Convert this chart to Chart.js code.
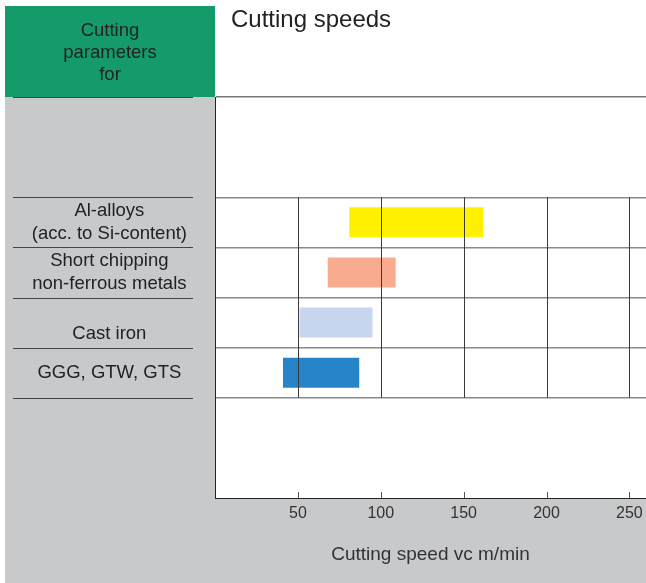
<!DOCTYPE html>
<html>
<head>
<meta charset="utf-8">
<script src="https://cdn.jsdelivr.net/npm/chart.js@4"></script>
<style>
  html, body { margin: 0; padding: 0; background: #fff; }
</style>
</head>
<body>
<canvas id="speedChart" width="646" height="583"></canvas>
<script>
// Cutting speed ranges per material
const materials = [
  ["Al-alloys", "(acc. to Si-content)"],
  ["Short chipping", "non-ferrous metals"],
  ["", "Cast iron"],
  "GGG, GTW, GTS",
];
const speedMin = [81, 68, 51, 41];
const speedMax = [162, 109, 95, 87];
const barColors = ["#fff100", "#f8ab8e", "#c7d5ee", "#2884c8"];
const speedTicks = [50, 100, 150, 200, 250];
const headerLines = ["Cutting", "parameters", "for"];
const chartTitle = "Cutting speeds";
const axisTitle = "Cutting speed vc m/min";

const FONT = '"Liberation Sans", Arial, sans-serif';

// two empty rows above and below the table
const blank = ["", ""];
const rowLabels = [...blank, ...materials, ...blank];
const rowData = [null, null, ...speedMin.map((v, i) => [v, speedMax[i]]), null, null];
const rowColors = ["#0000", "#0000", ...barColors, "#0000", "#0000"];
const firstRow = blank.length;
const lastRow = blank.length + materials.length;

function rowEdge(scale, i) {
  return scale.getPixelForValue(i - 0.5);
}

const tablePlugin = {
  id: "table",
  beforeDraw(chart) {
    const ctx = chart.ctx;
    const { left, top, bottom } = chart.chartArea;
    const y = chart.scales.y;
    ctx.save();
    ctx.fillStyle = "#fff";
    ctx.fillRect(0, 0, chart.width, chart.height);
    ctx.fillStyle = "#c8c9cb";
    ctx.fillRect(5, top, left - 5, chart.height - top);
    ctx.fillRect(5, bottom, chart.width - 5, chart.height - bottom);
    ctx.fillStyle = "#149b69";
    ctx.fillRect(5, 6, left - 5, top - 6);

    ctx.fillStyle = "#222";
    ctx.font = "18.5px " + FONT;
    ctx.textAlign = "center";
    ctx.textBaseline = "middle";
    headerLines.forEach((t, i) => ctx.fillText(t, 110, 31 + i * 22));

    ctx.textAlign = "left";
    ctx.textBaseline = "alphabetic";
    ctx.font = "24px " + FONT;
    ctx.fillText(chartTitle, 231, 27);

    // row separators in the label column
    ctx.strokeStyle = "#444";
    ctx.lineWidth = 1;
    const edges = [0];
    for (let i = firstRow; i <= lastRow; i++) edges.push(i);
    edges.forEach(i => {
      const py = Math.round(rowEdge(y, i)) + 0.5;
      ctx.beginPath();
      ctx.moveTo(13, py);
      ctx.lineTo(193, py);
      ctx.stroke();
    });
    ctx.restore();
  },
  afterDatasetsDraw(chart) {
    const ctx = chart.ctx;
    const x = chart.scales.x, y = chart.scales.y;
    const y0 = rowEdge(y, firstRow), y1 = rowEdge(y, lastRow);
    const bottom = chart.chartArea.bottom;
    ctx.save();
    ctx.lineWidth = 1;
    speedTicks.forEach(v => {
      const px = Math.round(x.getPixelForValue(v)) + 0.5;
      ctx.strokeStyle = "#3a3a3a";
      ctx.beginPath();
      ctx.moveTo(px, y0);
      ctx.lineTo(px, y1);
      ctx.stroke();
      ctx.strokeStyle = "#555";
      ctx.beginPath();
      ctx.moveTo(px, bottom - 6);
      ctx.lineTo(px, bottom);
      ctx.stroke();
    });
    ctx.restore();
  },
};

const ctxSpeed = document.getElementById("speedChart").getContext("2d");
const speedChart = new Chart(ctxSpeed, {
  type: "bar",
  data: {
    labels: rowLabels,
    datasets: [
      {
        data: rowData,
        backgroundColor: rowColors,
        borderWidth: 0,
        barPercentage: 0.6,
        categoryPercentage: 1,
      },
    ],
  },
  options: {
    indexAxis: "y",
    responsive: false,
    animation: false,
    layout: { padding: { top: 97, left: 0, right: 0, bottom: 0 } },
    plugins: {
      legend: { display: false },
      tooltip: { enabled: false },
    },
    scales: {
      x: {
        type: "linear",
        min: 0,
        max: 260,
        grid: { display: false, drawTicks: false },
        border: { display: true, color: "#222", width: 1 },
        ticks: {
          stepSize: 50,
          includeBounds: false,
          padding: 6,
          color: "#333",
          font: { family: FONT, size: 16 },
          callback: v => (v === 0 ? "" : v),
        },
        title: {
          display: true,
          text: axisTitle,
          color: "#333",
          font: { family: FONT, size: 19 },
          padding: { top: 0, bottom: 17 },
        },
        afterFit: s => {
          s.height = 85;
          s.paddingLeft = 0;
          s.paddingRight = 0;
        },
      },
      y: {
        type: "category",
        offset: true,
        grid: {
          offset: true,
          drawTicks: false,
          lineWidth: 1.5,
          color: c => {
            if (c.index === 0) return "#777";
            if (c.index >= firstRow && c.index <= lastRow) return "#8a8a8a";
            return "rgba(0,0,0,0)";
          },
        },
        border: { display: true, color: "#222", width: 1 },
        ticks: {
          autoSkip: false,
          crossAlign: "center",
          padding: 28,
          color: "#222",
          font: { family: FONT, size: 18.5 },
        },
        afterFit: s => { s.width = 215; },
      },
    },
  },
  plugins: [tablePlugin],
});
</script>
</body>
</html>
